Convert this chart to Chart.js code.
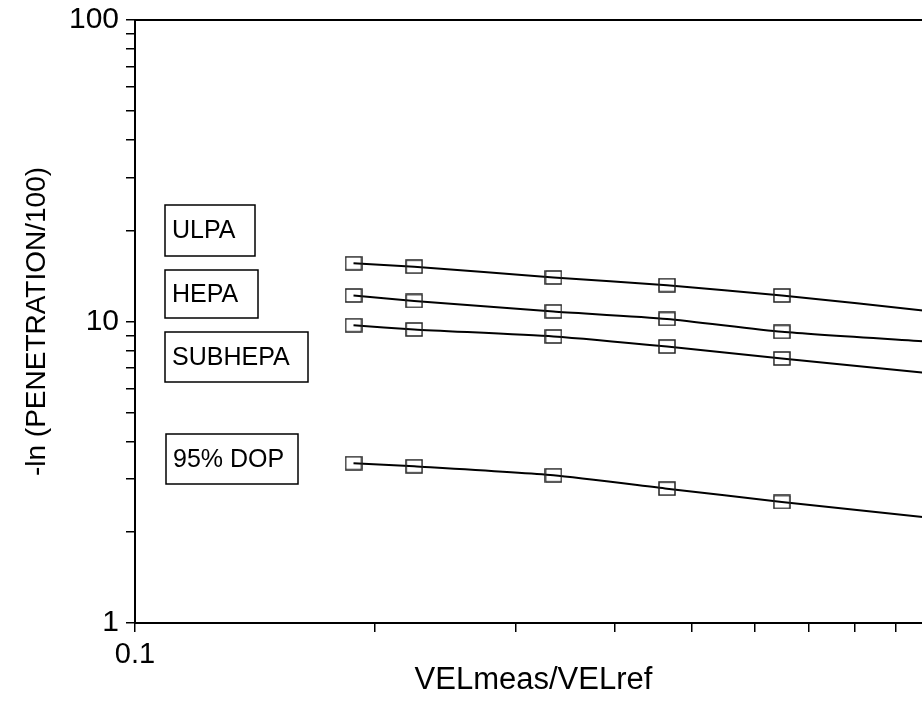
<!DOCTYPE html>
<html>
<head>
<meta charset="utf-8">
<script src="https://cdn.jsdelivr.net/npm/chart.js@4"></script>
<style>
html,body{margin:0;padding:0;background:#fff;overflow:hidden;}
canvas{display:block;}
</style>
</head>
<body>
<canvas id="penChart" width="960" height="705"></canvas>
<script>
// values (log-log)
const velRatio = [0.188, 0.224, 0.335, 0.465, 0.648, 1.0];
const ulpa = [15.6, 15.2, 14.0, 13.2, 12.2, 10.8];
const hepa = [12.2, 11.7, 10.8, 10.2, 9.24, 8.55];
const subhepa = [9.72, 9.41, 8.92, 8.26, 7.54, 6.72];
const dop95 = [3.39, 3.31, 3.09, 2.79, 2.52, 2.23];
const seriesNames = ["ULPA", "HEPA", "SUBHEPA", "95% DOP"];
const xTickLabels = [0.1, 1];
const yTickLabels = [1, 10, 100];

// tick marks: 1..9 in each decade
function decadeTicks(lo, hi){
  const out = [];
  for (let d = lo; d < hi * 0.99; d *= 10)
    for (let m = 1; m <= 9; m++) out.push(+(m * d).toPrecision(3));
  out.push(hi);
  return out;
}
const xTicks = decadeTicks(0.1, 1);
const yTicks = decadeTicks(1, 100);

// label boxes, offsets from chart area top-left
const boxPos = [
  {x: 30, y: 185, w: 90, h: 51},
  {x: 30, y: 250, w: 93, h: 48},
  {x: 30, y: 312, w: 143, h: 50},
  {x: 31, y: 414, w: 132, h: 50}
];

const font = "'Liberation Sans', Arial, sans-serif";

function makeMarker(w, h){
  const c = document.createElement("canvas");
  c.width = w; c.height = h;
  const g = c.getContext("2d");
  g.strokeStyle = "#222";
  g.lineWidth = 1.5;
  g.strokeRect(1, 1, w - 2, h - 2);
  return c;
}
const marker = makeMarker(18, 15);

function isLabel(list, v){
  return list.some(t => Math.abs(t - v) < 1e-9 * Math.max(1, t));
}

function series(vals, i){
  return {
    label: seriesNames[i],
    data: velRatio.map((x, k) => ({x: x, y: vals[k]})),
    borderColor: "#000",
    borderWidth: 2,
    pointStyle: marker,
    pointRadius: 8,
    tension: 0.2,
    fill: false
  };
}

const boxPlugin = {
  id: "boxes",
  afterDatasetsDraw(chart){
    const ctx = chart.ctx;
    const a = chart.chartArea;
    ctx.save();
    // top frame line
    ctx.strokeStyle = "#000";
    ctx.lineWidth = 2;
    ctx.beginPath();
    ctx.moveTo(a.left, a.top);
    ctx.lineTo(a.right, a.top);
    ctx.stroke();
    ctx.lineWidth = 1.5;
    ctx.font = "25px " + font;
    ctx.fillStyle = "#000";
    ctx.textBaseline = "middle";
    ctx.textAlign = "left";
    boxPos.forEach((b, i) => {
      const x = a.left + b.x, y = a.top + b.y;
      ctx.strokeRect(x, y, b.w, b.h);
      ctx.fillText(chart.data.datasets[i].label, x + 7, y + b.h / 2 + 1);
    });
    ctx.restore();
  }
};

new Chart(document.getElementById("penChart"), {
  type: "line",
  data: {
    datasets: [series(ulpa, 0), series(hepa, 1), series(subhepa, 2), series(dop95, 3)]
  },
  options: {
    responsive: false,
    animation: false,
    devicePixelRatio: 1,
    layout: {padding: {top: 20, right: 28, left: 0, bottom: 0}},
    plugins: {legend: {display: false}, tooltip: {enabled: false}},
    scales: {
      x: {
        type: "logarithmic",
        min: 0.1,
        max: 1,
        afterBuildTicks: s => { s.ticks = xTicks.map(v => ({value: v})); },
        afterFit: s => { s.height = 82; },
        grid: {drawOnChartArea: false, drawTicks: true, tickLength: 9, color: "#000", lineWidth: 1.5},
        border: {display: true, color: "#000", width: 2},
        ticks: {
          autoSkip: false, maxRotation: 0, padding: 6, color: "#000",
          font: {family: font, size: 29},
          callback: v => isLabel(xTickLabels, v) ? String(v) : ""
        },
        title: {display: true, text: "VELmeas/VELref", color: "#000",
          font: {family: font, size: 31}, padding: {top: 0, bottom: 6}}
      },
      y: {
        type: "logarithmic",
        min: 1,
        max: 100,
        afterBuildTicks: s => { s.ticks = yTicks.map(v => ({value: v})); },
        afterFit: s => { s.width = 135; s.paddingTop = 0; },
        grid: {drawOnChartArea: false, drawTicks: true, tickLength: 9, color: "#000", lineWidth: 1.5},
        border: {display: true, color: "#000", width: 2},
        ticks: {
          autoSkip: false, padding: 7, color: "#000",
          font: {family: font, size: 30},
          callback: v => isLabel(yTickLabels, v) ? String(v) : ""
        },
        title: {display: true, text: "-ln (PENETRATION/100)", color: "#000",
          font: {family: font, size: 28}, padding: {top: 20, bottom: 0}}
      }
    }
  },
  plugins: [boxPlugin]
});
</script>
</body>
</html>
